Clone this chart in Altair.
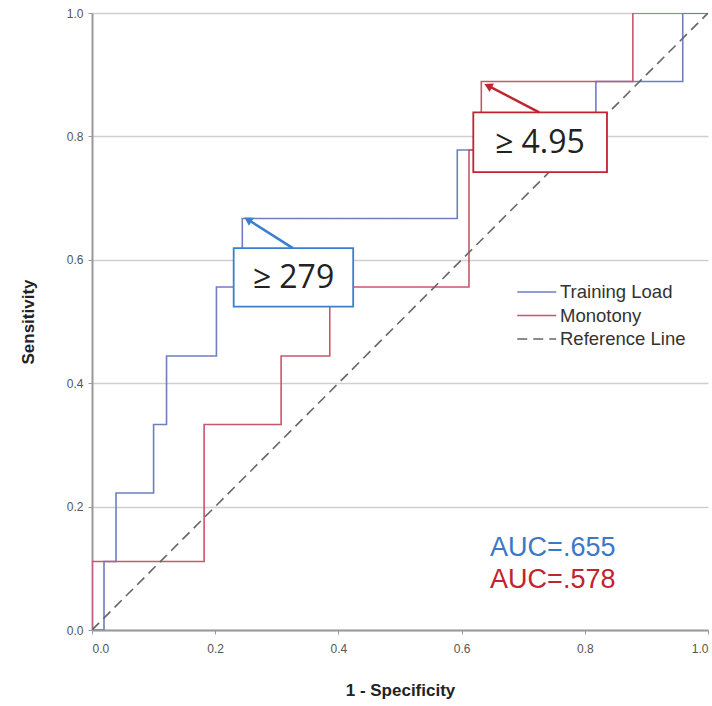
import altair as alt
import pandas as pd

# ---- data ----
series_names = ["Training Load", "Monotony", "Reference Line"]
series_colors = ["#6e7ebf", "#c8566c", "#666666"]

tl_x = [0, 0.0195, 0.0195, 0.039, 0.039, 0.100, 0.100, 0.121, 0.121, 0.202, 0.202,
        0.244, 0.244, 0.593, 0.593, 0.818, 0.818, 0.959, 0.959, 1.0]
tl_y = [0, 0, 0.111, 0.111, 0.222, 0.222, 0.333, 0.333, 0.444, 0.444, 0.556,
        0.556, 0.667, 0.667, 0.778, 0.778, 0.889, 0.889, 1.0, 1.0]

mo_x = [0, 0, 0.182, 0.182, 0.307, 0.307, 0.386, 0.386, 0.612, 0.612, 0.632,
        0.632, 0.878, 0.878, 1.0]
mo_y = [0, 0.111, 0.111, 0.333, 0.333, 0.444, 0.444, 0.556, 0.556, 0.778, 0.778,
        0.889, 0.889, 1.0, 1.0]

ref_x = [0, 1]
ref_y = [0, 1]

tick_values = [0.0, 0.2, 0.4, 0.6, 0.8, 1.0]

box_labels = ["≥ 279", "≥ 4.95"]
box_colors = ["#3a7fd0", "#c0242e"]
box_x1 = [0.230, 0.619]
box_x2 = [0.424, 0.836]
box_y1 = [0.524, 0.742]
box_y2 = [0.619, 0.839]
box_tx = [0.327, 0.727]
box_ty = [0.571, 0.790]
arrow_x1 = [0.326, 0.726]
arrow_y1 = [0.619, 0.839]
arrow_x2 = [0.255, 0.645]
arrow_y2 = [0.664, 0.881]
arrow_angle = [302, 297]

auc_labels = ["AUC=.655", "AUC=.578"]
auc_colors = ["#3b78c6", "#c0242e"]
auc_x = [0.748, 0.748]
auc_y = [0.133, 0.081]

# ---- tables ----
rows = []
for name, xs, ys in [("Training Load", tl_x, tl_y), ("Monotony", mo_x, mo_y),
                     ("Reference Line", ref_x, ref_y)]:
    for i, (xv, yv) in enumerate(zip(xs, ys)):
        rows.append({"series": name, "x": xv, "y": yv, "order": i})
curves = pd.DataFrame(rows)

boxes = pd.DataFrame({"label": box_labels, "color": box_colors, "x1": box_x1, "x2": box_x2,
                      "y1": box_y1, "y2": box_y2, "tx": box_tx, "ty": box_ty,
                      "ax1": arrow_x1, "ay1": arrow_y1, "ax2": arrow_x2, "ay2": arrow_y2,
                      "angle": arrow_angle})
auc = pd.DataFrame({"label": auc_labels, "color": auc_colors, "x": auc_x, "y": auc_y})

xscale = alt.Scale(domain=[0, 1], nice=False, zero=False)
yscale = alt.Scale(domain=[0, 1], nice=False, zero=False)

legend = alt.Legend(title=None, orient="none", legendX=424, legendY=268,
                    symbolType="M-1,0H3", symbolSize=380, symbolStrokeWidth=2,
                    labelFont="Liberation Sans", labelFontSize=18.5, labelColor="#333333",
                    rowPadding=2.5, labelOffset=22)

lines = alt.Chart(curves).mark_line(clip=True).encode(
    x=alt.X("x:Q", scale=xscale,
            axis=alt.Axis(values=tick_values, format=".1f", title="1 - Specificity", grid=False,
                          titlePadding=28, labelPadding=9)),
    y=alt.Y("y:Q", scale=yscale,
            axis=alt.Axis(values=tick_values, format=".1f", title="Sensitivity", grid=True,
                          titlePadding=29)),
    color=alt.Color("series:N", scale=alt.Scale(domain=series_names, range=series_colors),
                    legend=legend),
    strokeDash=alt.StrokeDash("series:N",
                              scale=alt.Scale(domain=series_names, range=[[1, 0], [1, 0], [10, 6]]),
                              legend=legend),
    strokeWidth=alt.StrokeWidth("series:N",
                                scale=alt.Scale(domain=series_names, range=[1.6, 1.6, 2.2]),
                                legend=None),
    order="order:Q",
    detail="series:N",
)

rects = alt.Chart(boxes).mark_rect(fill="white", strokeWidth=1.8).encode(
    x="x1:Q", x2="x2:Q", y="y1:Q", y2="y2:Q",
    stroke=alt.Stroke("color:N", scale=None),
)

box_text = alt.Chart(boxes).mark_text(font="Open Sans", fontSize=32, color="#222222",
                                      align="center", baseline="middle").encode(
    x="tx:Q", y="ty:Q", text="label:N",
)

arrow_lines = alt.Chart(boxes).mark_rule(strokeWidth=2.5).encode(
    x="ax1:Q", y="ay1:Q", x2="ax2:Q", y2="ay2:Q",
    color=alt.Color("color:N", scale=None),
)

arrow_heads = alt.Chart(boxes).mark_point(shape="triangle", filled=True, size=90, opacity=1).encode(
    x="ax2:Q", y="ay2:Q",
    angle=alt.Angle("angle:Q", scale=None),
    color=alt.Color("color:N", scale=None),
)

auc_text = alt.Chart(auc).mark_text(font="Liberation Sans", fontSize=27,
                                    align="center", baseline="middle").encode(
    x="x:Q", y="y:Q", text="label:N",
    color=alt.Color("color:N", scale=None),
)

chart = alt.layer(lines, rects, box_text, arrow_lines, arrow_heads, auc_text).properties(
    width=616, height=617,
    autosize=alt.AutoSizeParams(type="none"),
    padding={"left": 92, "top": 13, "right": 4, "bottom": 76},
).configure_view(stroke=None).configure_axis(
    domainColor="#9a9a9a", domainWidth=2, tickColor="#9a9a9a", tickSize=4, tickWidth=1,
    labelFont="Liberation Sans", labelFontSize=12, labelColor="#555555", labelPadding=5,
    titleFont="Liberation Sans", titleFontSize=17, titleFontWeight="bold", titleColor="#222222",
    gridColor="#cfcfcf", gridWidth=1.5,
)

chart.save("out.html", embed_options={"renderer": "svg", "actions": False})
